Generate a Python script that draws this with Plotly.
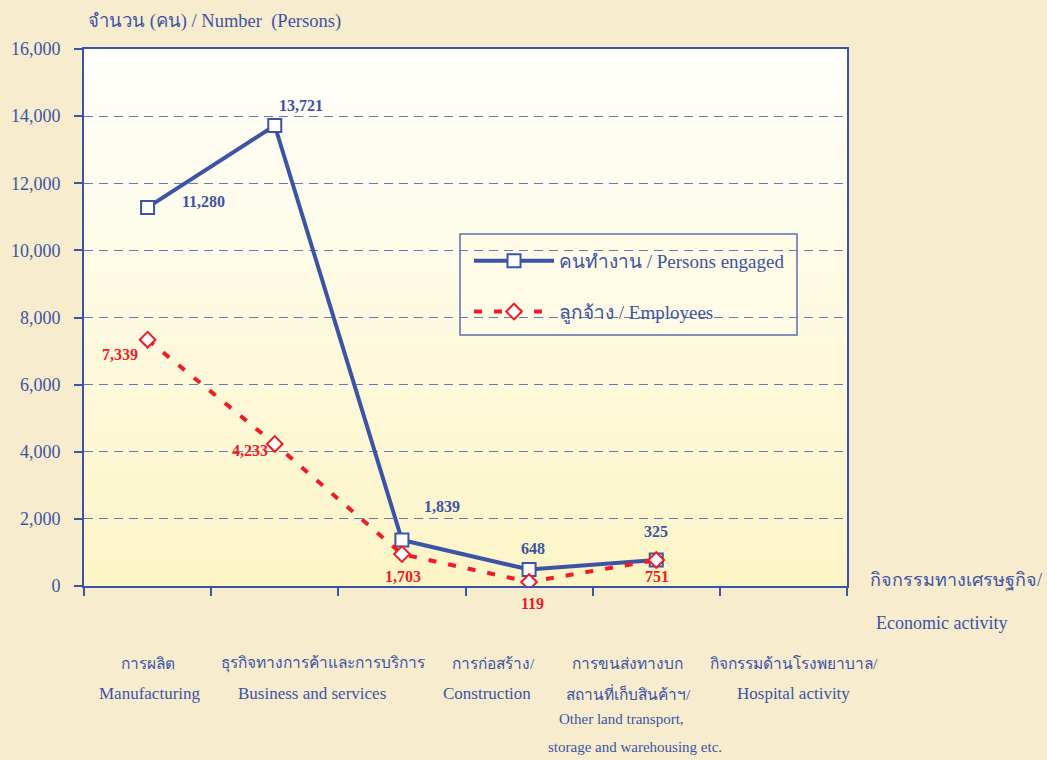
import plotly.graph_objects as go

# ---------------- data ----------------
categories = [0, 1, 2, 3, 4]
persons_engaged = [11280, 13721, 1370, 490, 775]
employees = [7339, 4233, 950, 119, 775]
persons_labels = ["11,280", "13,721", "1,839", "648", "325"]
employees_labels = ["7,339", "4,233", "1,703", "119", "751"]
y_ticks = [0, 2000, 4000, 6000, 8000, 10000, 12000, 14000, 16000]
cat_thai = ["การผลิต", "ธุรกิจทางการค้าและการบริการ", "การก่อสร้าง/", "การขนส่งทางบก", "กิจกรรมด้านโรงพยาบาล/"]
cat_eng = ["Manufacturing", "Business and services", "Construction", "สถานที่เก็บสินค้าฯ/", "Hospital activity"]

BLUE = "#3C54A5"
RED = "#EE1C25"
FONT = "Liberation Serif, Times New Roman, serif"
PAPER = "#F8ECCF"

fig = go.Figure()

fig.add_trace(go.Scatter(
    x=categories, y=persons_engaged, mode="lines+markers",
    name="คนทำงาน / Persons engaged", legendgroup="p",
    line=dict(color=BLUE, width=4),
    marker=dict(symbol="square", size=13, color="white", line=dict(color=BLUE, width=2)),
))
fig.add_trace(go.Scatter(
    x=categories, y=employees, mode="lines+markers",
    name="ลูกจ้าง / Employees", legendgroup="e",
    line=dict(color=RED, width=4, dash="8px,12px"),
    marker=dict(symbol="diamond", size=12, color="white", line=dict(color=RED, width=2)),
))

# gradient plot background
n = 60
def mix(c1, c2, t):
    return "#%02X%02X%02X" % tuple(round(a + (b - a) * t) for a, b in zip(c1, c2))
top_c = (255, 255, 252)
bot_c = (253, 245, 198)
for i in range(n):
    y0 = i / n
    y1 = (i + 1) / n
    t = 1 - (y0 + y1) / 2
    fig.add_shape(type="rect", xref="x domain", yref="y domain", x0=0, x1=1, y0=y0, y1=y1,
                  fillcolor=mix(top_c, bot_c, t), line=dict(width=0), layer="below")

# legend box
fig.add_shape(type="rect", xref="paper", yref="paper", x0=0.4928, x1=0.9345, y0=0.4674, y1=0.6555,
              fillcolor="#FFFBE6", line=dict(color="#5B6FB0", width=1.5), layer="between")

ann = []
# data labels
p_shift = [(56, 6), (26, 20), (40, 34), (4, 21), (0, 28)]
e_shift = [(-28, -15), (-25, -7), (1, -22), (3, -21), (1, -17)]
for i, (xv, yv) in enumerate(zip(categories, persons_engaged)):
    ann.append(dict(x=xv, y=yv, xref="x", yref="y", text="<b>%s</b>" % persons_labels[i], showarrow=False,
                    xanchor="center", yanchor="middle",
                    xshift=p_shift[i][0], yshift=p_shift[i][1], font=dict(family=FONT, size=16, color=BLUE)))
for i, (xv, yv) in enumerate(zip(categories, employees)):
    ann.append(dict(x=xv, y=yv, xref="x", yref="y", text="<b>%s</b>" % employees_labels[i], showarrow=False,
                    xanchor="center", yanchor="middle",
                    xshift=e_shift[i][0], yshift=e_shift[i][1], font=dict(family=FONT, size=16, color=RED)))

# category labels
thai_x = [0, 1.38, 2.72, 3.77, 5.08]
eng_x = [0.02, 1.29, 2.67, 3.78, 5.08]
eng_size = [17, 17, 17, 15.5, 17]
for i in range(5):
    ann.append(dict(x=thai_x[i], y=-0.1434, xref="x", yref="paper", text=cat_thai[i], showarrow=False,
                    xanchor="center", yanchor="middle", font=dict(family=FONT, size=15.5, color=BLUE)))
    ann.append(dict(x=eng_x[i], y=-0.1993, xref="x", yref="paper", text=cat_eng[i], showarrow=False,
                    xanchor="center", yanchor="middle", font=dict(family=FONT, size=eng_size[i], color=BLUE)))
ann.append(dict(x=3.73, y=-0.2477, xref="x", yref="paper", text="Other land transport,", showarrow=False,
                xanchor="center", yanchor="middle", font=dict(family=FONT, size=15, color=BLUE)))
ann.append(dict(x=3.83, y=-0.2998, xref="x", yref="paper", text="storage and warehousing etc.", showarrow=False,
                xanchor="center", yanchor="middle", font=dict(family=FONT, size=15, color=BLUE)))

# axis titles
ann.append(dict(x=0.0026, y=1.0503, xref="paper", yref="paper", xanchor="left", yanchor="middle",
                text="จำนวน (คน) / Number  (Persons)",
                showarrow=False, font=dict(family=FONT, size=18.5, color=BLUE)))
ann.append(dict(x=1.0275, y=0.011, xref="paper", yref="paper", xanchor="left", yanchor="middle",
                text="กิจกรรมทางเศรษฐกิจ/",
                showarrow=False, font=dict(family=FONT, size=18, color=BLUE)))
ann.append(dict(x=1.1245, y=-0.069, xref="paper", yref="paper", xanchor="center", yanchor="middle",
                text="Economic activity",
                showarrow=False, font=dict(family=FONT, size=18, color=BLUE)))

fig.update_layout(
    width=1047, height=760,
    margin=dict(l=84, r=200, t=49, b=174),
    paper_bgcolor=PAPER,
    plot_bgcolor="rgba(0,0,0,0)",
    font=dict(family=FONT, color=BLUE, size=18),
    showlegend=True,
    legend=dict(x=0.5046, y=0.6406, xanchor="left", yanchor="top",
                bgcolor="rgba(0,0,0,0)", borderwidth=0,
                font=dict(family=FONT, size=19, color=BLUE), itemwidth=80,
                tracegroupgap=23),
    annotations=ann,
    xaxis=dict(range=[-0.5, 5.5], tickvals=[-0.5, 0.5, 1.5, 2.5, 3.5, 4.5, 5.5], ticktext=[""] * 7,
               ticks="outside", ticklen=8, tickcolor=BLUE, tickwidth=1.5,
               showgrid=False, zeroline=False, showline=True, linecolor=BLUE, linewidth=2, mirror=True),
    yaxis=dict(range=[0, 16000], tickvals=y_ticks, tickformat=",d", ticks="outside", ticklen=8,
               tickcolor=BLUE, tickwidth=1.5, tickfont=dict(family=FONT, size=18, color=BLUE),
               ticklabelstandoff=10,
               showgrid=True, gridcolor="#6478BA", gridwidth=1.2, griddash="9px,6px",
               zeroline=False, showline=True, linecolor=BLUE, linewidth=2, mirror=True),
)

fig.write_html("out.html", config={"displayModeBar": False},
               post_script="document.body.style.margin='0';document.body.style.background='%s';" % PAPER)
